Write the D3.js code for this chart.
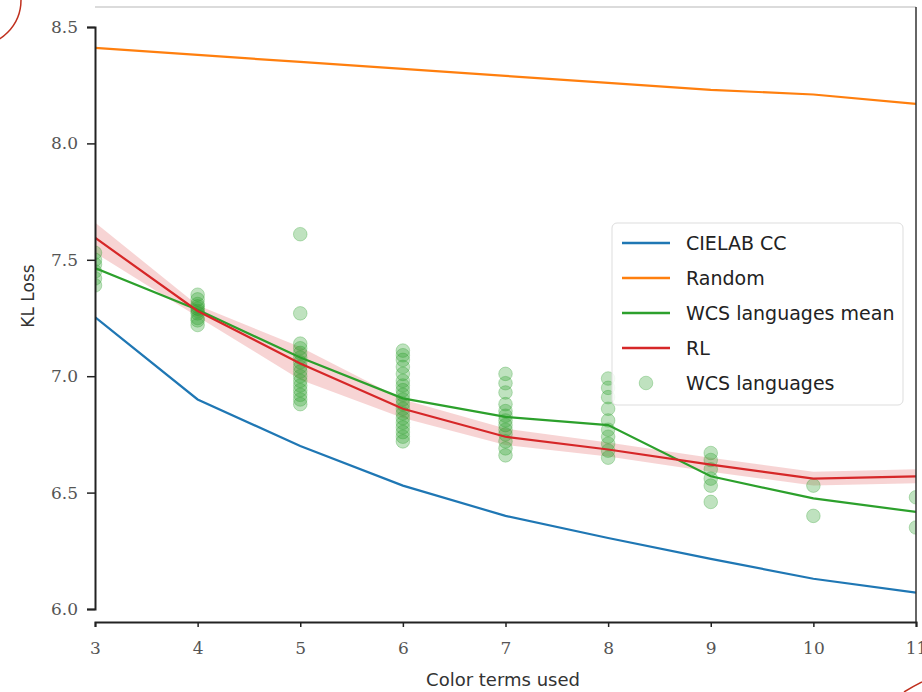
<!DOCTYPE html>
<html>
<head>
<meta charset="utf-8">
<script src="https://cdn.jsdelivr.net/npm/d3@7"></script>
<style>
  body { margin: 0; background: #fff; }
  svg { display: block; }
</style>
</head>
<body>
<script>
// number of colour terms on the x axis
const terms = [3, 4, 5, 6, 7, 8, 9, 10, 11];

// series
const cielab = [7.254, 6.90, 6.70, 6.53, 6.40, 6.305, 6.215, 6.13, 6.07];
const random = [8.41, 8.38, 8.35, 8.32, 8.29, 8.26, 8.23, 8.21, 8.17];
const wcsMean = [7.465, 7.285, 7.08, 6.905, 6.825, 6.79, 6.57, 6.475, 6.417];
const rl = [7.595, 7.28, 7.055, 6.86, 6.74, 6.685, 6.62, 6.56, 6.57];
const rlSpread = [0.065, 0.025, 0.07, 0.04, 0.035, 0.03, 0.03, 0.03, 0.03];

// individual WCS languages, one list per x value
const wcsLangs = [
  [7.39, 7.42, 7.45, 7.48, 7.50, 7.53],
  [7.22, 7.24, 7.25, 7.27, 7.28, 7.29, 7.30, 7.31, 7.33, 7.35],
  [7.61, 7.27, 7.14, 7.12, 7.10, 7.08, 7.06, 7.04, 7.02, 7.00, 6.98, 6.96, 6.94, 6.92, 6.90, 6.88],
  [7.11, 7.09, 7.07, 7.04, 7.01, 6.98, 6.96, 6.94, 6.92, 6.90, 6.88, 6.86, 6.84, 6.82, 6.80, 6.78, 6.76, 6.74, 6.72],
  [7.01, 6.97, 6.93, 6.88, 6.85, 6.83, 6.81, 6.79, 6.77, 6.75, 6.72, 6.69, 6.66],
  [6.99, 6.95, 6.91, 6.86, 6.81, 6.77, 6.74, 6.71, 6.68, 6.65],
  [6.67, 6.64, 6.60, 6.56, 6.53, 6.46],
  [6.53, 6.40],
  [6.48, 6.35]
];

const yTicks = [6.0, 6.5, 7.0, 7.5, 8.0, 8.5];
const legendNames = ["CIELAB CC", "Random", "WCS languages mean", "RL", "WCS languages"];

const width = 922, height = 692;
const plotLeft = 95, plotRight = 916, plotTop = 7, plotBottom = 622;

const colors = {
  blue: "#1f77b4", orange: "#ff7f0e", green: "#2ca02c", red: "#d62728"
};

let svg = d3.select("body").append("svg")
  .attr("width", width)
  .attr("height", height);

const x = d3.scaleLinear().domain([3, 11]).range([plotLeft, plotRight]);
const y = d3.scaleLinear().domain([6.0, 8.5]).range([609, 27]);

svg.append("defs").append("clipPath").attr("id", "plot")
  .append("rect")
  .attr("x", plotLeft).attr("y", plotTop)
  .attr("width", plotRight - plotLeft).attr("height", plotBottom - plotTop);

let plot = svg.append("g").attr("clip-path", "url(#plot)");

// RL spread band
let band = d3.area()
  .x((d, i) => x(terms[i]))
  .y0((d, i) => y(d - rlSpread[i]))
  .y1((d, i) => y(d + rlSpread[i]));
plot.append("path")
  .attr("d", band(rl))
  .attr("fill", colors.red)
  .attr("fill-opacity", 0.2);

// WCS scatter
let pts = [];
wcsLangs.forEach((vals, i) => vals.forEach(v => pts.push({ t: terms[i], v: v })));
plot.selectAll(".lang").data(pts).enter()
  .append("circle")
  .attr("class", "lang")
  .attr("cx", d => x(d.t))
  .attr("cy", d => y(d.v))
  .attr("r", 6.8)
  .attr("fill", colors.green)
  .attr("fill-opacity", 0.3)
  .attr("stroke", colors.green)
  .attr("stroke-opacity", 0.3);

let line = d3.line().x((d, i) => x(terms[i])).y(d => y(d));
[[cielab, colors.blue], [random, colors.orange], [wcsMean, colors.green], [rl, colors.red]]
  .forEach(s => {
    plot.append("path")
      .attr("d", line(s[0]))
      .attr("fill", "none")
      .attr("stroke", s[1])
      .attr("stroke-width", 2.2);
  });

// frame
svg.append("line").attr("x1", plotLeft).attr("x2", plotRight).attr("y1", plotTop).attr("y2", plotTop)
  .attr("stroke", "#cfcfcf").attr("stroke-width", 1.5);
svg.append("line").attr("x1", plotRight).attr("x2", plotRight).attr("y1", plotTop).attr("y2", plotBottom)
  .attr("stroke", "#333").attr("stroke-width", 1.5);

// axes
let xAxis = svg.append("g")
  .attr("transform", `translate(0,${plotBottom})`)
  .call(d3.axisBottom(x).tickValues(terms).tickSize(5).tickFormat(d3.format("d")));
let yAxis = svg.append("g")
  .attr("transform", `translate(${plotLeft},0)`)
  .call(d3.axisLeft(y).tickValues(yTicks).tickSize(8).tickFormat(d3.format(".1f")));

[xAxis, yAxis].forEach(a => {
  a.select(".domain").attr("stroke", "#222").attr("stroke-width", 2);
  a.selectAll(".tick line").attr("stroke", "#222").attr("stroke-width", 1.5);
  a.selectAll(".tick text")
    .attr("fill", "#555")
    .style("font-family", "'DejaVu Serif', serif")
    .style("font-size", "17px");
});
xAxis.selectAll(".tick text").attr("y", 20);
yAxis.selectAll(".tick text").attr("x", -17);

svg.append("text")
  .attr("x", 503).attr("y", 686)
  .attr("text-anchor", "middle")
  .attr("fill", "#333")
  .style("font-family", "'DejaVu Sans', sans-serif")
  .style("font-size", "18px")
  .text("Color terms used");

svg.append("text")
  .attr("transform", "translate(34,296) rotate(-90)")
  .attr("text-anchor", "middle")
  .attr("fill", "#333")
  .style("font-family", "'DejaVu Sans', sans-serif")
  .style("font-size", "17px")
  .text("KL Loss");

// legend
let legend = svg.append("g").attr("transform", "translate(612,223)");
legend.append("rect")
  .attr("width", 291).attr("height", 182)
  .attr("rx", 5)
  .attr("fill", "#fff").attr("fill-opacity", 0.85)
  .attr("stroke", "#ddd");
const legendColors = [colors.blue, colors.orange, colors.green, colors.red, colors.green];
legendNames.forEach((name, i) => {
  let gy = 20 + i * 35;
  if (i < 4) {
    legend.append("line")
      .attr("x1", 10).attr("x2", 58).attr("y1", gy).attr("y2", gy)
      .attr("stroke", legendColors[i]).attr("stroke-width", 2.5);
  } else {
    legend.append("circle")
      .attr("cx", 34).attr("cy", gy).attr("r", 6.8)
      .attr("fill", colors.green).attr("fill-opacity", 0.3)
      .attr("stroke", colors.green).attr("stroke-opacity", 0.3);
  }
  legend.append("text")
    .attr("x", 74).attr("y", gy + 7)
    .attr("fill", "#222")
    .style("font-family", "'DejaVu Sans', sans-serif")
    .style("font-size", "19px")
    .text(name);
});

// red hand-drawn marks in the corners
svg.append("circle")
  .attr("cx", -25).attr("cy", 0).attr("r", 46)
  .attr("fill", "none").attr("stroke", "#c0301e").attr("stroke-width", 1.5);
svg.append("path")
  .attr("d", "M904,692 Q914,686 922,682")
  .attr("fill", "none").attr("stroke", "#c0301e").attr("stroke-width", 1.5);
</script>
</body>
</html>
